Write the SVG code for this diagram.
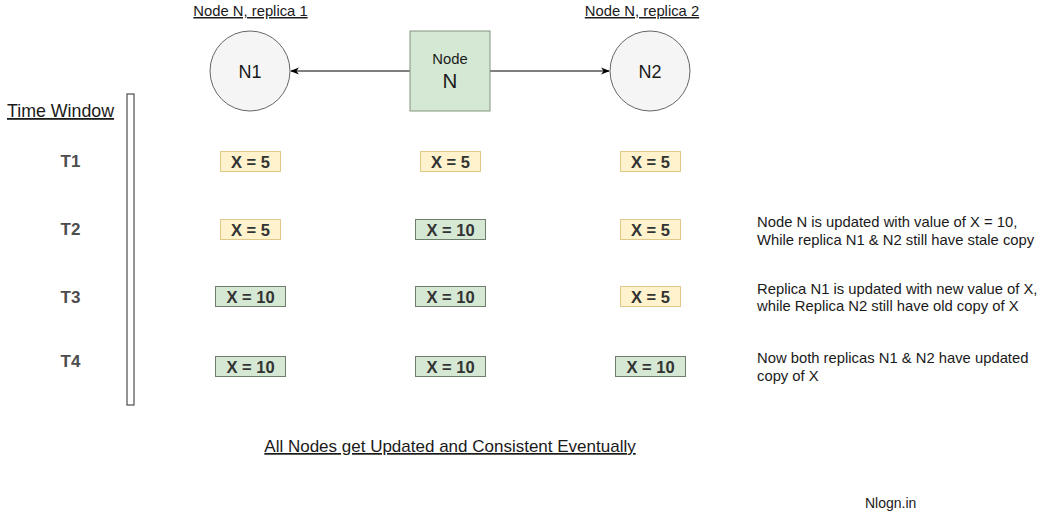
<svg xmlns="http://www.w3.org/2000/svg" width="1056" height="512" viewBox="0 0 1056 512">
<defs>
<style>
text{font-family:"Liberation Sans",Arial,sans-serif;fill:#1a1a1a}
.lbl{font-size:14.8px;text-decoration:underline;text-anchor:middle}
.circ{fill:#f5f5f5;stroke:#666666;stroke-width:1}
.main{fill:#d5e8d4;stroke:#82937f;stroke-width:1}
.y{fill:#fff2cc;stroke:#e0c98a;stroke-width:1}
.g{fill:#d5e8d4;stroke:#6e7d6c;stroke-width:1}
.val{font-size:16.5px;font-weight:bold;text-anchor:middle;fill:#333333}
.t{font-size:17px;font-weight:bold;text-anchor:middle;fill:#4d4d4d}
.note{font-size:14.8px;fill:#1a1a1a}
.edge{stroke:#000;stroke-width:1;fill:none;marker-end:url(#arr)}
</style>
<marker id="arr" viewBox="0 0 10 10" refX="9" refY="5" markerWidth="9" markerHeight="9" markerUnits="userSpaceOnUse" orient="auto">
<path d="M0,1 L10,5 L0,9 L3,5 Z" fill="#000"/>
</marker>
</defs>
<rect width="1056" height="512" fill="#ffffff"/>

<g id="connectors">
<line class="edge" x1="410" y1="71" x2="291" y2="71"/>
<line class="edge" x1="490" y1="71" x2="609" y2="71"/>
</g>

<g id="label-r1"><text class="lbl" x="250.5" y="16">Node N, replica 1</text></g>
<g id="label-r2"><text class="lbl" x="642" y="16">Node N, replica 2</text></g>

<g id="node-n1"><circle class="circ" cx="250" cy="71" r="40"/><text x="250" y="78" font-size="18" text-anchor="middle" fill="#333">N1</text></g>
<g id="node-n"><rect class="main" x="410" y="31" width="80" height="80"/><text x="450" y="64" font-size="14.8" text-anchor="middle" fill="#1a1a1a">Node</text><text x="450" y="88" font-size="20.5" text-anchor="middle" fill="#1a1a1a">N</text></g>
<g id="node-n2"><circle class="circ" cx="650" cy="71" r="40"/><text x="650" y="78" font-size="18" text-anchor="middle" fill="#333">N2</text></g>

<g id="time-window"><text x="7" y="117" font-size="17.8" fill="#4d4d4d" text-decoration="underline">Time Window</text></g>
<g id="timeline"><rect x="127" y="94" width="7" height="311" fill="#ffffff" stroke="#4d4d4d" stroke-width="1.2"/></g>

<g id="t1"><text class="t" x="70.5" y="167">T1</text></g>
<g id="t2"><text class="t" x="70.5" y="234.5">T2</text></g>
<g id="t3"><text class="t" x="70.5" y="302.5">T3</text></g>
<g id="t4"><text class="t" x="70.5" y="367">T4</text></g>

<g id="r1-t1"><rect class="y" x="220.5" y="151.5" width="60" height="20"/><text class="val" x="250.5" y="167.5">X = 5</text></g>
<g id="n-t1"><rect class="y" x="420.5" y="151.5" width="60" height="20"/><text class="val" x="450.5" y="167.5">X = 5</text></g>
<g id="r2-t1"><rect class="y" x="620.5" y="151.5" width="60" height="20"/><text class="val" x="650.5" y="167.5">X = 5</text></g>

<g id="r1-t2"><rect class="y" x="220.5" y="219.5" width="60" height="20"/><text class="val" x="250.5" y="235.5">X = 5</text></g>
<g id="n-t2"><rect class="g" x="415.5" y="219.5" width="70" height="20"/><text class="val" x="450.5" y="235.5">X = 10</text></g>
<g id="r2-t2"><rect class="y" x="620.5" y="219.5" width="60" height="20"/><text class="val" x="650.5" y="235.5">X = 5</text></g>

<g id="r1-t3"><rect class="g" x="215.5" y="286.5" width="70" height="20"/><text class="val" x="250.5" y="302.5">X = 10</text></g>
<g id="n-t3"><rect class="g" x="415.5" y="286.5" width="70" height="20"/><text class="val" x="450.5" y="302.5">X = 10</text></g>
<g id="r2-t3"><rect class="y" x="620.5" y="286.5" width="60" height="20"/><text class="val" x="650.5" y="302.5">X = 5</text></g>

<g id="r1-t4"><rect class="g" x="215.5" y="356.5" width="70" height="20"/><text class="val" x="250.5" y="372.5">X = 10</text></g>
<g id="n-t4"><rect class="g" x="415.5" y="356.5" width="70" height="20"/><text class="val" x="450.5" y="372.5">X = 10</text></g>
<g id="r2-t4"><rect class="g" x="615.5" y="356.5" width="70" height="20"/><text class="val" x="650.5" y="372.5">X = 10</text></g>

<g id="note-t2"><text class="note" x="757" y="227">Node N is updated with value of X = 10,</text><text class="note" x="757" y="244.5">While replica N1 &amp; N2 still have stale copy</text></g>
<g id="note-t3"><text class="note" x="757" y="293.5">Replica N1 is updated with new value of X,</text><text class="note" x="757" y="311">while Replica N2 still have old copy of X</text></g>
<g id="note-t4"><text class="note" x="757" y="362.5">Now both replicas N1 &amp; N2 have updated</text><text class="note" x="757" y="381">copy of X</text></g>

<g id="footer"><text x="450" y="452" font-size="17" text-anchor="middle" fill="#1a1a1a" text-decoration="underline">All Nodes get Updated and Consistent Eventually</text></g>
<g id="credit"><text x="865" y="508" font-size="14" fill="#333333">Nlogn.in</text></g>
</svg>
